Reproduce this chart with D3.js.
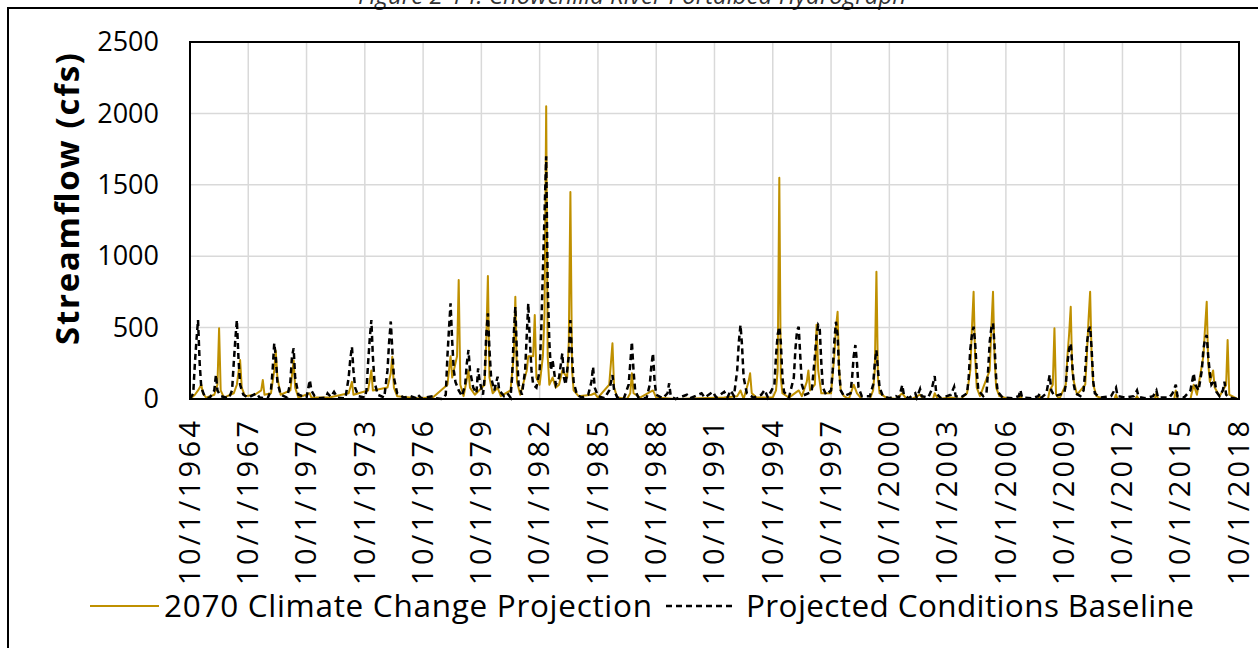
<!DOCTYPE html>
<html><head><meta charset="utf-8">
<script src="https://cdn.jsdelivr.net/npm/d3@7"></script>
<style>body{margin:0;background:#fff} svg{display:block} text{font-family:'Open Sans',sans-serif;fill:#000}</style>
</head><body><svg id="c" width="1258" height="648"></svg>
<script>
// ---- data ----
const titleText = "Figure 2-14: Chowchilla River Portalbed Hydrograph";
const yTitle = "Streamflow (cfs)";
const seriesNames = ["2070 Climate Change Projection", "Projected Conditions Baseline"];
const startDate = "1964-10-01"; // month index 0
const endDate = "2018-10-01";
const xTickLabels = ["10/1/1964","10/1/1967","10/1/1970","10/1/1973","10/1/1976","10/1/1979","10/1/1982","10/1/1985","10/1/1988","10/1/1991","10/1/1994","10/1/1997","10/1/2000","10/1/2003","10/1/2006","10/1/2009","10/1/2012","10/1/2015","10/1/2018"];
const yTickValues = [0, 500, 1000, 1500, 2000, 2500];
// [months since 10/1/1964, cfs]
const baselinePoints = [[0,0],[2,40],[3,250],[4,420],[5,553],[6,250],[7,80],[9,20],[12,5],[15,60],[16,170],[17,60],[19,20],[24,5],[26,60],[27,250],[28,420],[29,553],[30,280],[31,100],[33,30],[36,10],[41,40],[43,10],[48,5],[50,60],[51,200],[52,390],[53,300],[54,120],[56,30],[60,10],[62,120],[63,300],[64,355],[65,150],[67,30],[72,10],[74,133],[75,60],[77,20],[80,5],[84,10],[85,40],[87,15],[89,50],[91,10],[96,5],[98,150],[99,280],[100,366],[101,200],[102,80],[104,20],[108,10],[109,60],[110,250],[111,420],[112,553],[113,300],[114,120],[116,30],[120,10],[122,200],[123,400],[124,543],[125,350],[126,150],[128,40],[132,10],[136,20],[140,5],[141,28],[143,5],[150,20],[152,5],[156,0],[158,30],[159,300],[160,500],[161,670],[162,400],[163,200],[164,120],[166,60],[168,20],[170,100],[171,250],[172,343],[173,200],[175,80],[177,40],[178,215],[179,120],[181,30],[182,150],[183,450],[184,600],[185,350],[186,150],[188,60],[190,156],[191,60],[194,20],[196,40],[198,10],[199,150],[200,450],[201,646],[202,300],[203,100],[205,30],[207,200],[208,450],[209,670],[210,400],[211,200],[212,100],[214,80],[216,200],[217,500],[218,900],[219,1300],[220,1700],[221,800],[222,400],[223,200],[224,273],[226,100],[228,150],[230,320],[231,150],[232,100],[234,300],[235,553],[236,300],[237,120],[239,30],[242,10],[246,30],[248,120],[249,226],[250,80],[252,20],[256,5],[259,60],[261,168],[262,60],[264,10],[268,5],[271,100],[272,250],[273,400],[274,200],[275,60],[277,10],[282,5],[284,100],[285,230],[286,320],[287,120],[288,30],[292,5],[295,40],[296,110],[297,20],[300,0],[307,30],[309,5],[316,40],[318,10],[323,50],[325,10],[330,50],[332,10],[334,60],[336,20],[338,200],[339,400],[340,518],[341,380],[342,150],[344,40],[348,10],[353,30],[355,63],[357,10],[361,100],[362,300],[363,450],[364,506],[365,400],[366,150],[367,50],[370,10],[373,150],[374,350],[375,480],[376,506],[377,300],[378,100],[380,30],[384,50],[386,300],[387,450],[388,518],[389,500],[390,250],[391,80],[393,30],[396,60],[397,200],[398,400],[399,541],[400,450],[401,200],[402,60],[404,20],[408,40],[409,150],[410,300],[411,378],[412,250],[413,80],[415,20],[420,20],[422,100],[423,250],[424,343],[425,200],[426,80],[428,20],[432,5],[436,20],[438,10],[440,98],[441,30],[444,5],[448,40],[449,10],[451,70],[452,20],[456,10],[458,60],[460,160],[461,40],[464,5],[470,30],[472,86],[473,20],[476,10],[480,40],[481,150],[482,350],[483,450],[484,506],[485,400],[486,200],[487,60],[490,20],[492,40],[493,200],[494,400],[495,500],[496,530],[497,380],[498,150],[499,50],[502,10],[508,5],[512,20],[513,63],[514,10],[520,5],[524,20],[525,40],[526,10],[529,40],[531,168],[532,60],[534,20],[540,40],[541,100],[542,250],[543,350],[544,390],[545,250],[546,100],[547,40],[550,20],[552,60],[553,200],[554,380],[555,480],[556,506],[557,350],[558,120],[559,40],[562,10],[569,20],[572,80],[573,20],[578,10],[583,20],[585,60],[586,15],[590,5],[595,20],[597,60],[598,10],[605,10],[607,40],[609,100],[610,20],[614,10],[618,60],[620,180],[621,100],[623,60],[625,200],[626,350],[627,420],[628,448],[629,300],[630,180],[631,100],[633,133],[634,50],[636,20],[638,60],[639,121],[640,30],[642,10],[647,0]];
const projectionPoints = [[0,0],[3,30],[5,60],[7,100],[8,40],[10,10],[15,30],[17,100],[18,495],[19,60],[21,10],[27,40],[29,100],[31,273],[32,80],[34,20],[40,30],[44,60],[45,133],[46,30],[50,40],[52,200],[53,340],[54,150],[56,30],[62,60],[64,270],[65,80],[67,10],[74,40],[75,10],[86,10],[98,40],[100,120],[101,30],[110,60],[112,200],[113,60],[122,80],[124,180],[125,296],[126,80],[128,20],[140,5],[150,10],[159,100],[161,300],[162,150],[165,300],[166,833],[167,100],[169,20],[172,200],[173,80],[176,30],[182,100],[183,400],[184,861],[185,150],[187,40],[190,80],[192,20],[198,60],[200,300],[201,716],[202,120],[204,30],[208,200],[209,300],[212,300],[213,588],[214,150],[216,100],[218,300],[219,600],[220,2050],[221,300],[222,100],[224,150],[226,80],[228,100],[230,200],[233,150],[234,400],[235,1450],[236,200],[237,60],[240,20],[248,30],[250,40],[252,10],[259,100],[261,390],[262,80],[264,10],[270,0],[272,40],[273,180],[274,40],[278,10],[286,60],[288,10],[300,0],[330,10],[338,20],[340,60],[342,0],[345,120],[346,180],[347,40],[350,10],[360,10],[362,60],[363,200],[364,1550],[365,150],[366,40],[370,10],[376,60],[378,20],[381,120],[382,200],[383,60],[386,100],[387,520],[388,200],[390,40],[396,40],[398,300],[399,500],[400,611],[401,200],[402,60],[404,20],[407,0],[410,100],[412,40],[415,0],[420,0],[422,60],[423,200],[424,891],[425,150],[426,40],[430,10],[436,0],[440,40],[442,10],[446,0],[451,30],[453,0],[459,0],[460,40],[462,0],[470,10],[476,0],[480,40],[482,200],[483,500],[484,751],[485,300],[486,80],[488,20],[494,200],[495,500],[496,751],[497,300],[498,80],[500,20],[506,0],[512,0],[513,30],[514,0],[524,0],[525,20],[526,0],[530,0],[531,60],[533,100],[534,495],[535,30],[537,0],[541,100],[542,300],[543,450],[544,646],[545,200],[546,120],[548,30],[553,100],[554,300],[555,550],[556,751],[557,300],[558,100],[560,20],[564,0],[571,0],[572,30],[573,0],[584,0],[585,20],[586,0],[596,0],[597,40],[598,0],[608,0],[609,60],[610,0],[618,0],[620,100],[622,30],[626,300],[627,500],[628,681],[629,250],[630,120],[632,200],[633,80],[636,20],[640,100],[641,413],[642,30],[647,0]];
const colors = ["#BF9000", "#000000"];

// ---- chart ----
const svg = d3.select("#c");
const W = 1258, H = 648;
const plot = {left: 190, right: 1239, top: 42, bottom: 399};
const parseISO = d3.timeParse("%Y-%m-%d");
const parseTick = d3.timeParse("%m/%d/%Y");
const t0 = parseISO(startDate);
const x = d3.scaleTime().domain([t0, parseISO(endDate)]).range([plot.left, plot.right]);
const y = d3.scaleLinear().domain([0, 2500]).range([plot.bottom, plot.top]);

// title (clipped at top, as in the source figure)
svg.append("text").attr("x", 632).attr("y", 4).attr("text-anchor", "middle")
  .attr("font-size", 24).attr("font-style", "italic").style("fill", "#333").text(titleText);

// outer frame
svg.append("path").attr("d", `M8,${H} V8 H${W}`).attr("fill", "none").attr("stroke", "#000").attr("stroke-width", 2);

// gridlines
const tickDates = xTickLabels.map(parseTick);
svg.append("g").selectAll("line").data(tickDates).join("line")
  .attr("x1", d => x(d)).attr("x2", d => x(d)).attr("y1", plot.top).attr("y2", plot.bottom)
  .attr("stroke", "#d9d9d9").attr("stroke-width", 1.5);
svg.append("g").selectAll("line").data(yTickValues).join("line")
  .attr("x1", plot.left).attr("x2", plot.right).attr("y1", d => y(d)).attr("y2", d => y(d))
  .attr("stroke", "#d9d9d9").attr("stroke-width", 1.5);

// series
const line = d3.line().x(d => x(d3.timeMonth.offset(t0, d[0]))).y(d => y(d[1]));
svg.append("path").datum(projectionPoints).attr("d", line).attr("fill", "none")
  .attr("stroke", colors[0]).attr("stroke-width", 2).attr("stroke-linejoin", "round");
svg.append("path").datum(baselinePoints).attr("d", line).attr("fill", "none")
  .attr("stroke", colors[1]).attr("stroke-width", 2.5).attr("stroke-dasharray", "6,4");

// frame
svg.append("rect").attr("x", plot.left).attr("y", plot.top).attr("width", plot.right - plot.left)
  .attr("height", plot.bottom - plot.top).attr("fill", "none").attr("stroke", "#000").attr("stroke-width", 2);

// y axis
const yAxis = d3.axisLeft(y).tickValues(yTickValues).tickSize(0).tickPadding(31).tickFormat(d3.format("d"));
const gy = svg.append("g").attr("transform", `translate(${plot.left},0)`).call(yAxis);
gy.select(".domain").remove();
gy.selectAll("text").attr("font-size", 27).attr("font-family", "'Open Sans',sans-serif");

// x axis
const xAxis = d3.axisBottom(x).tickValues(tickDates).tickSize(0).tickFormat((d, i) => xTickLabels[i]);
const gx = svg.append("g").attr("transform", `translate(0,${plot.bottom})`).call(xAxis);
gx.select(".domain").remove();
gx.selectAll("text").attr("font-size", 29).attr("font-family", "'Open Sans',sans-serif")
  .attr("text-anchor", "end").attr("dy", "0.32em").attr("transform", "translate(0,22) rotate(-90)")
  .attr("x", 0).attr("y", 0).attr("textLength", 164).attr("lengthAdjust", "spacing");

// y title
svg.append("text").attr("transform", "translate(79,199) rotate(-90)").attr("text-anchor", "middle")
  .attr("font-size", 33).attr("font-weight", "bold").attr("textLength", 292).attr("lengthAdjust", "spacing").text(yTitle);

// legend
const ly = 606;
svg.append("line").attr("x1", 90).attr("x2", 159).attr("y1", ly).attr("y2", ly)
  .attr("stroke", colors[0]).attr("stroke-width", 2);
svg.append("text").attr("x", 164).attr("y", ly).attr("dy", "0.35em").attr("font-size", 31.5)
  .attr("textLength", 488).attr("lengthAdjust", "spacing").text(seriesNames[0]);
svg.append("line").attr("x1", 666).attr("x2", 736).attr("y1", ly).attr("y2", ly)
  .attr("stroke", colors[1]).attr("stroke-width", 2.5).attr("stroke-dasharray", "6,4");
svg.append("text").attr("x", 746).attr("y", ly).attr("dy", "0.35em").attr("font-size", 31.5)
  .attr("textLength", 448).attr("lengthAdjust", "spacing").text(seriesNames[1]);
</script></body></html>
